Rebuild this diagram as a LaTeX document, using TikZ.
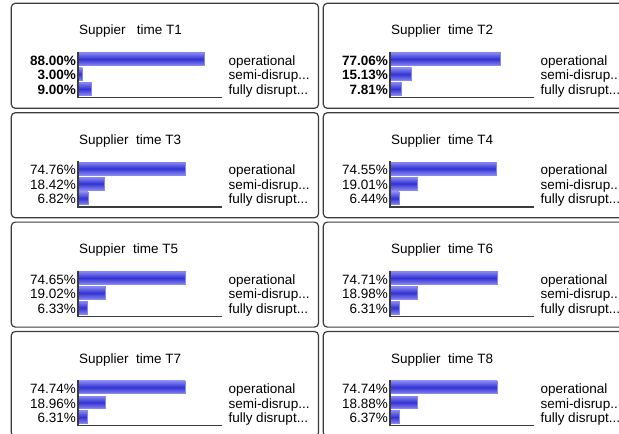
\documentclass[tikz,border=0pt]{standalone}
\usepackage{fontspec}
\setmainfont{Liberation Sans}
\definecolor{frame}{RGB}{60,60,60}
\definecolor{barmid}{RGB}{50,50,212}
\definecolor{baredge}{RGB}{135,135,240}
\tikzset{
  panelbox/.style={draw=frame, line width=1.2pt, rounded corners=4pt, fill=white},
  barfill/.style={draw=baredge, line width=0.5pt, top color=baredge, bottom color=baredge, middle color=barmid},
  axisline/.style={draw=frame, line width=1.2pt},
  ptext/.style={font=\fontsize{13.5}{14}\selectfont, inner sep=0pt, text=black},
}
\newcommand\chartpanel[8]{%
  \begin{scope}[shift={(#2,#3)}]
    \draw[panelbox] (0,0) rectangle (307.2,105);
    \node[ptext, anchor=base west] (#1-title) at (67.7,31.5) {#4};
    \pgfmathsetmacro\wa{66.7+1.43*#5}
    \pgfmathsetmacro\wb{66.7+1.43*#6}
    \pgfmathsetmacro\wc{66.7+1.43*#7}
    \shade[barfill] (66.7,49.4) rectangle (\wa,62.2);
    \shade[barfill] (66.7,64.6) rectangle (\wb,77.2);
    \shade[barfill] (66.7,79.2) rectangle (\wc,92.0);
    \coordinate (#1-top) at (66.7,48.4);
    \coordinate (#1-corner) at (66.7,94.2);
    \coordinate (#1-end) at (210.4,94.2);
    \draw[axisline] (#1-top) -- (#1-corner) -- (#1-end);
    \node[ptext, anchor=base east] (#1-p1) at (64.7,62) {#8#5\%};
    \node[ptext, anchor=base east] (#1-p2) at (64.7,76.5) {#8#6\%};
    \node[ptext, anchor=base east] (#1-p3) at (64.7,91) {#8#7\%};
    \node[ptext, anchor=base west] (#1-l1) at (217,62) {operational};
    \node[ptext, anchor=base west] (#1-l2) at (217,76.5) {semi-disrup...};
    \node[ptext, anchor=base west] (#1-l3) at (217,91) {fully disrupt...};
  \end{scope}%
}
\begin{document}
\begin{tikzpicture}[x=1pt,y=-1pt]
  \useasboundingbox (0,0) rectangle (619,434);
  \fill[white] (0,0) rectangle (619,434);
  \clip (0,0) rectangle (619,434);
  \chartpanel{ta}{11.3}{3.3}{Suppier\ \ \ time T1}{88.00}{3.00}{9.00}{\bfseries}
  \chartpanel{tb}{323.3}{3.3}{Supplier\ \ time T2}{77.06}{15.13}{7.81}{\bfseries}
  \chartpanel{tc}{11.3}{112.7}{Supplier\ \ time T3}{74.76}{18.42}{6.82}{}
  \chartpanel{td}{323.3}{112.7}{Supplier\ \ time T4}{74.55}{19.01}{6.44}{}
  \chartpanel{te}{11.3}{222.1}{Suppier\ \ time T5}{74.65}{19.02}{6.33}{}
  \chartpanel{tf}{323.3}{222.1}{Supplier\ \ time T6}{74.71}{18.98}{6.31}{}
  \chartpanel{tg}{11.3}{331.5}{Supplier\ \ time T7}{74.74}{18.96}{6.31}{}
  \chartpanel{th}{323.3}{331.5}{Supplier\ \ time T8}{74.74}{18.88}{6.37}{}
\end{tikzpicture}
\end{document}
